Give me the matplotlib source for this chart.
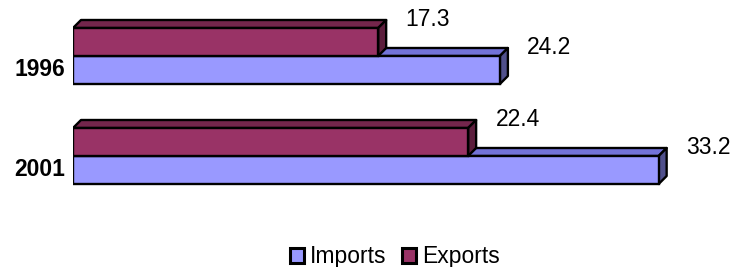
import matplotlib.pyplot as plt
from matplotlib.patches import Polygon, Patch

years = ['1996', '2001']
imports = [24.2, 33.2]
exports = [17.3, 22.4]

imp_col = '#9999FF'
imp_top = '#7373D9'
imp_side = '#50508C'
exp_col = '#993366'
exp_top = '#74264C'
exp_side = '#5C1E3D'

plt.rcParams['font.family'] = ['Liberation Sans', 'DejaVu Sans']

fig = plt.figure(figsize=(7.35, 2.67), dpi=100)
ax = fig.add_axes([73 / 735, 0, 662 / 735, 1])
ax.set_xlim(0, 662 / 17.64)
ax.set_ylim(2.11, -0.56)
ax.axis('off')

h = 0.28          # bar thickness (category units)
dx = 8 / 17.64    # 3D depth in x
dy = 0.08         # 3D depth in y
lw = 1.7


def bar3d(y_top, val, front, top, side):
    y_bot = y_top + h
    ax.add_patch(Polygon([(0, y_top), (dx, y_top - dy), (val + dx, y_top - dy), (val, y_top)],
                         closed=True, facecolor=top, edgecolor='black', lw=lw, joinstyle='round'))
    ax.add_patch(Polygon([(val, y_top), (val + dx, y_top - dy), (val + dx, y_bot - dy), (val, y_bot)],
                         closed=True, facecolor=side, edgecolor='black', lw=lw, joinstyle='round'))
    ax.barh(y_top + h / 2, val, height=h, color=front, edgecolor='black', lw=lw)


for i, y in enumerate(range(len(years))):
    # imports first (lower bar), exports drawn over it
    bar3d(y, imports[i], imp_col, imp_top, imp_side)
    bar3d(y - h, exports[i], exp_col, exp_top, exp_side)
    ax.text(exports[i] + 1.55, y - h - dy, f'{exports[i]:.1f}', fontsize=16.5,
            ha='left', va='center')
    ax.text(imports[i] + 1.55, y - dy, f'{imports[i]:.1f}', fontsize=16.5,
            ha='left', va='center')
    ax.text(-0.45, y + 0.14, years[i], fontsize=16.5, fontweight='bold',
            ha='right', va='center')

handles = [Patch(facecolor=imp_col, edgecolor='black', lw=2.2, label='Imports'),
           Patch(facecolor=exp_col, edgecolor='black', lw=2.2, label='Exports')]
fig.legend(handles=handles, loc='center', bbox_to_anchor=(395 / 735, 1 - 257 / 267),
           ncol=2, frameon=False, fontsize=16.5, handlelength=0.6, handleheight=0.6,
           handletextpad=0.25, columnspacing=0.7)

fig.savefig('out.png', dpi=100)
